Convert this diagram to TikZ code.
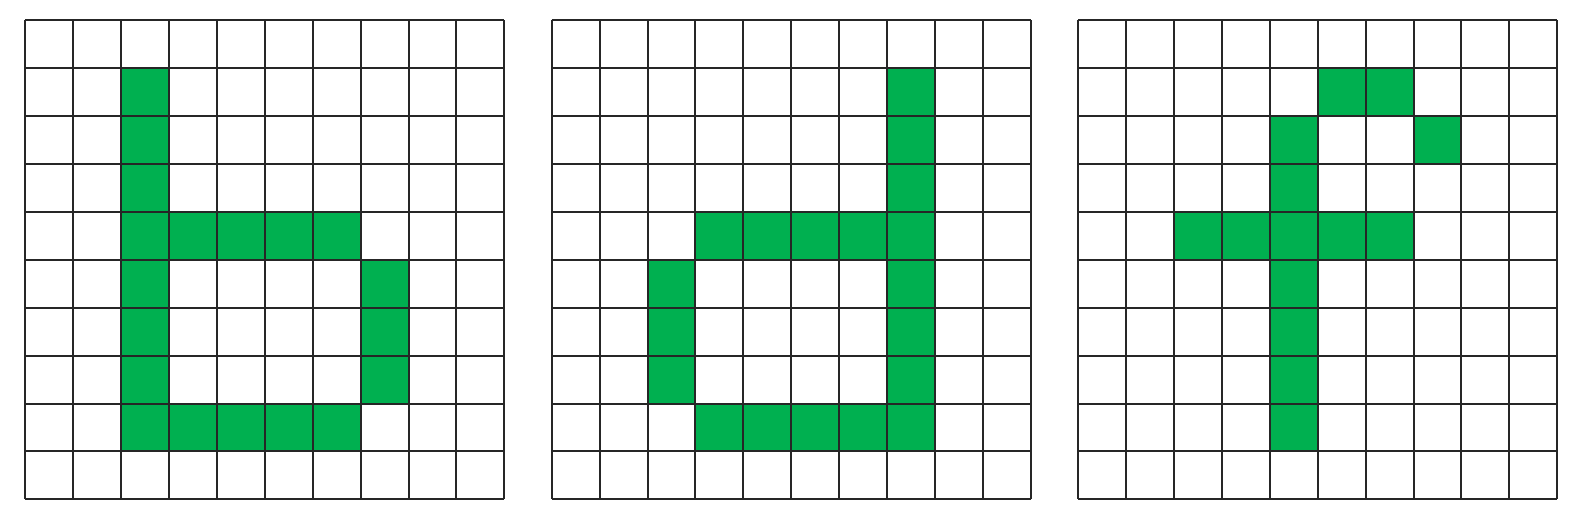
\documentclass[tikz,border=0pt]{standalone}
\begin{document}
\begin{tikzpicture}[x=1pt,y=-1pt]
\definecolor{cellgreen}{HTML}{00B050}
\tikzset{gridline/.style={draw=black!85,line width=2pt},
  greencell/.style={fill=cellgreen}}
\useasboundingbox (0,0) rectangle (1587,522);
\def\cs{47.9}
% grid origins
\foreach \gx/\cells in {25.3/{2/1,2/2,2/3,2/4,2/5,2/6,2/7,2/8,3/4,4/4,5/4,6/4,7/5,7/6,7/7,3/8,4/8,5/8,6/8},
  551.7/{7/1,7/2,7/3,7/4,7/5,7/6,7/7,7/8,3/4,4/4,5/4,6/4,2/5,2/6,2/7,3/8,4/8,5/8,6/8},
  1078.2/{5/1,6/1,4/2,7/2,4/3,2/4,3/4,4/4,5/4,6/4,4/5,4/6,4/7,4/8}}{
  \foreach \c/\r in \cells {
    \fill[greencell] (\gx+\c*\cs,20.3+\r*\cs) rectangle ++(\cs,\cs);
  }
  \foreach \i in {0,...,10} {
    \draw[gridline] (\gx+\i*\cs,20.3) -- (\gx+\i*\cs,20.3+10*\cs);
    \draw[gridline] (\gx,20.3+\i*\cs) -- (\gx+10*\cs,20.3+\i*\cs);
  }
}
\end{tikzpicture}
\end{document}
